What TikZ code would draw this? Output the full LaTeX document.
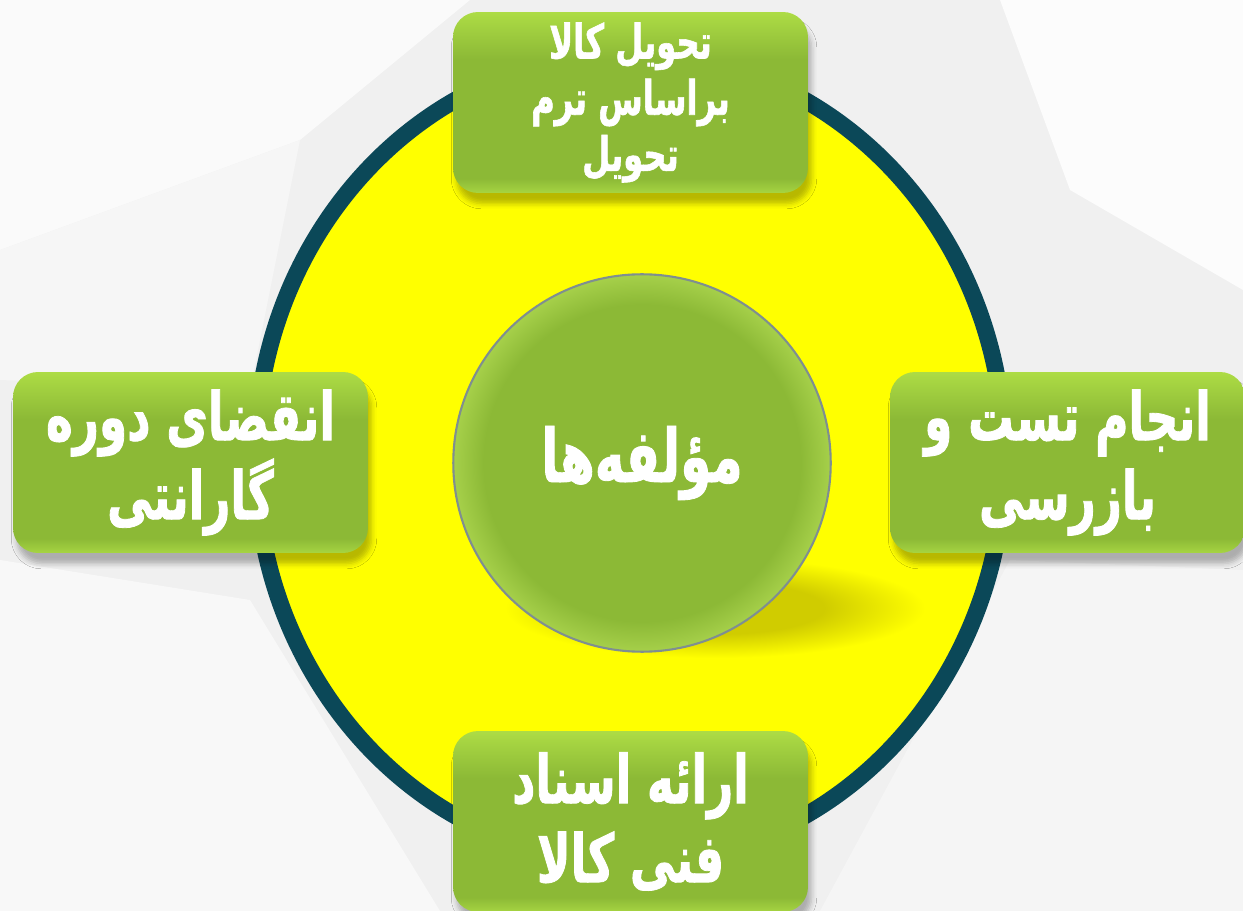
\documentclass[tikz,border=0pt]{standalone}
\usepackage{fontspec}
\usetikzlibrary{shadows.blur}
\TeXXeTstate=1
\newfontfamily\farsifont[Script=Arabic, FakeStretch=0.68, BoldFeatures={FakeBold=1.2}]{DejaVu Sans}

\definecolor{ringteal}{HTML}{0B4858}
\definecolor{discyellow}{HTML}{FFFF00}
\definecolor{boxgreen}{HTML}{8CB936}
\definecolor{boxlight}{HTML}{ADDC45}
\definecolor{hubrim}{HTML}{A6D04A}
\definecolor{hubedge}{HTML}{7F8F90}
\definecolor{shadeyellow}{HTML}{D0CC00}
\definecolor{bggrey}{HTML}{F0F0F0}

\pgfdeclareverticalshading{boxshade}{100bp}{color(0bp)=(boxlight); color(25bp)=(boxlight!80!boxgreen); color(29bp)=(boxgreen); color(62bp)=(boxgreen); color(75bp)=(boxlight); color(100bp)=(boxlight)}
\pgfdeclareradialshading{hubshade}{\pgfpoint{0bp}{0bp}}{color(0bp)=(boxgreen); color(21bp)=(boxgreen); color(25bp)=(hubrim); color(50bp)=(hubrim)}
\pgfdeclareradialshading{castshade}{\pgfpoint{0bp}{0bp}}{color(0bp)=(shadeyellow); color(13bp)=(shadeyellow); color(25bp)=(discyellow); color(50bp)=(discyellow)}

\tikzset{
  itembox/.style={shade, shading=boxshade, rounded corners=0.5cm,
    minimum width=7.1cm, minimum height=3.62cm, inner sep=0pt,
    text=white, align=center,
    blur shadow={shadow xshift=2pt, shadow yshift=-6pt, shadow blur radius=3pt, shadow opacity=28}},
  bigtext/.style={font=\farsifont\bfseries\fontsize{38}{45}\selectfont},
  smalltext/.style={font=\farsifont\bfseries\fontsize{27}{32}\selectfont},
  hub/.style={circle, shade, shading=hubshade, draw=hubedge, line width=1.2pt,
    minimum size=7.55cm, inner sep=0pt, text=white,
    font=\farsifont\bfseries\fontsize{42}{46}\selectfont}
}

\begin{document}
\begin{tikzpicture}[x=0.02cm, y=-0.02cm]
\useasboundingbox (0,0) rectangle (1243,911);

% background facets
\fill[bggrey] (0,0) rectangle (1243,911);
\fill[white!70!bggrey] (0,0)--(470,0)--(300,140)--(0,250)--cycle;
\fill[white!40!bggrey] (0,250)--(300,140)--(250,390)--(0,380)--cycle;
\fill[white!50!bggrey] (0,560)--(250,600)--(440,911)--(0,911)--cycle;
\fill[white!80!bggrey] (1000,0)--(1243,0)--(1243,290)--(1070,190)--cycle;
\fill[white!30!bggrey] (1010,560)--(1243,570)--(1243,911)--(820,911)--cycle;

% yellow disc
\draw[ringteal, fill=discyellow, line width=9.6pt] (630,458) ellipse [x radius=374.5, y radius=404.5];

% cast shadow of the hub
\shade[shading=castshade] (715,608) ellipse [x radius=210, y radius=50];

\node[hub] (hub) at (642,463) {\beginR مؤلفه‌ها\endR};

\node[itembox, smalltext] (delivery) at (630.5,102.5)
  {\beginR تحویل کالا\endR\\ \beginR براساس ترم\endR\\ \beginR تحویل\endR};
\node[itembox, bigtext] (testing) at (1067.5,462.5)
  {\beginR انجام تست و\endR\\ \beginR بازرسی\endR};
\node[itembox, bigtext] (documents) at (630.5,821.5)
  {\beginR ارائه اسناد\endR\\ \beginR فنی کالا\endR};
\node[itembox, bigtext] (warranty) at (190.5,462.5)
  {\beginR انقضای دوره\endR\\ \beginR گارانتی\endR};

\end{tikzpicture}
\end{document}
